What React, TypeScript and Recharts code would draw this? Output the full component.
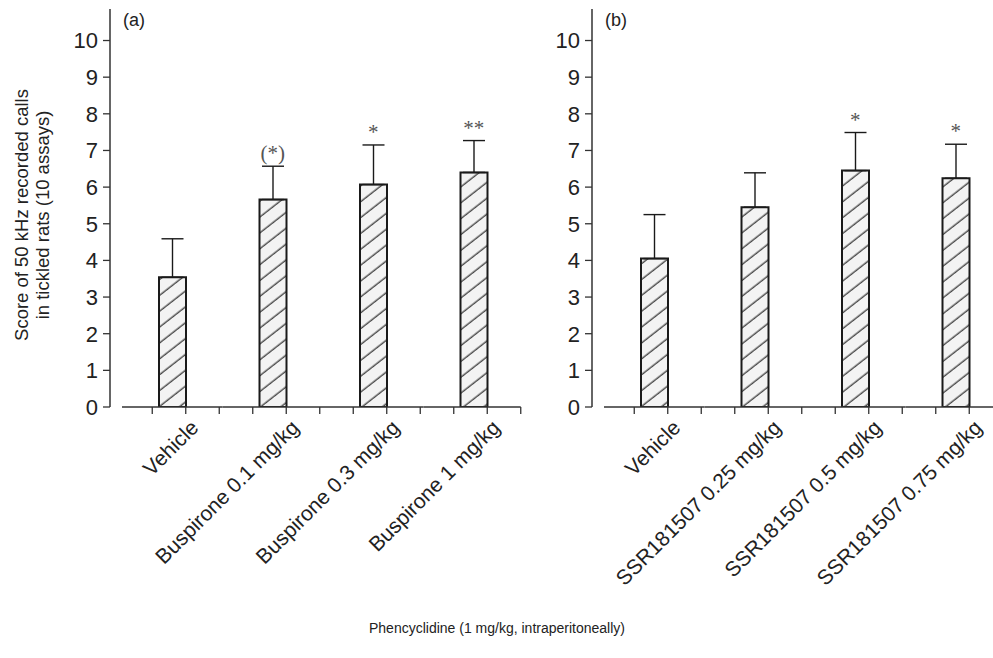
import React from 'react';
import { ComposedChart, Bar, Line, XAxis, YAxis, ErrorBar, LabelList } from 'recharts';

const categoriesA = ['Vehicle', 'Buspirone 0.1 mg/kg', 'Buspirone 0.3 mg/kg', 'Buspirone 1 mg/kg'];
const meansA = [3.54, 5.66, 6.07, 6.4];
const semA = [1.05, 0.91, 1.08, 0.87];
const sigA = ['', '(*)', '*', '**'];

const categoriesB = ['Vehicle', 'SSR181507 0.25 mg/kg', 'SSR181507 0.5 mg/kg', 'SSR181507 0.75 mg/kg'];
const meansB = [4.05, 5.45, 6.45, 6.24];
const semB = [1.2, 0.94, 1.04, 0.93];
const sigB = ['', '', '*', '*'];

const yTicks = [0, 1, 2, 3, 4, 5, 6, 7, 8, 9, 10];

const FONT = '"Liberation Sans", Arial, Helvetica, sans-serif';
const INK = '#222';

// panel geometry (px)
const CW = 540;
const CH = 658;
const MARGIN = { top: 9, right: 16, bottom: 0, left: 50 };
const Y_W = 60;
const X_PAD = 12;
const BAR = 27;
const BAND = (CW - MARGIN.right - (MARGIN.left + Y_W + X_PAD)) / 4;
const STEP = BAND / 3;

const build = (cats: string[], means: number[], sem: number[], sig: string[]) =>
  cats.map((name, i) => ({ name, value: means[i], err: [0, sem[i]], top: means[i] + sem[i], sig: sig[i] }));

const dataA = build(categoriesA, meansA, semA, sigA);
const dataB = build(categoriesB, meansB, semB, sigB);

function BandTick(props: any) {
  const { x, y, payload, index, visibleTicksCount } = props;
  const right = x + BAR / 2;
  const last = index === visibleTicksCount - 1;
  const marks = [right - STEP, right, right + STEP];
  return (
    <g>
      <line x1={x - BAND / 2} x2={last ? right + STEP : x + BAND / 2} y1={y} y2={y} stroke="#333" strokeWidth={1.5} />
      {marks.map((m, i) => (
        <line key={i} x1={m} x2={m} y1={y} y2={y + 7} stroke="#333" strokeWidth={1.3} />
      ))}
      <text
        transform={`translate(${right + 14},${y + 22}) rotate(-45)`}
        textAnchor="end"
        fontFamily={FONT}
        fontSize={21}
        fill={INK}
      >
        {payload.value}
      </text>
    </g>
  );
}

function Panel({ data, hatch }: { data: any[]; hatch: string }) {
  return (
    <ComposedChart width={CW} height={CH} data={data} margin={MARGIN}>
      <XAxis
        dataKey="name"
        type="category"
        height={CH - 407 - MARGIN.bottom}
        padding={{ left: X_PAD, right: 0 }}
        axisLine={false}
        tickLine={false}
        tickSize={0}
        tickMargin={0}
        interval={0}
        tick={(p: any) => <BandTick {...p} />}
      />
      <YAxis
        domain={[0, 10.86]}
        ticks={yTicks}
        interval={0}
        width={Y_W}
        tickSize={7}
        tickMargin={5}
        axisLine={{ stroke: '#333', strokeWidth: 1.5 }}
        tickLine={{ stroke: '#333', strokeWidth: 1.3 }}
        tick={{ fontSize: 22, fill: INK, fontFamily: FONT }}
        allowDataOverflow
      />
      <Bar dataKey="value" barSize={BAR} fill={`url(#${hatch})`} stroke="#1a1a1a" strokeWidth={2} isAnimationActive={false}>
        <ErrorBar dataKey="err" direction="y" width={11} stroke="#1a1a1a" strokeWidth={1.4} />
      </Bar>
      <Line dataKey="top" stroke="none" dot={false} activeDot={false} isAnimationActive={false}>
        <LabelList
          dataKey="sig"
          position="top"
          offset={6}
          style={{ fontFamily: '"Liberation Serif", "Times New Roman", serif', fontSize: 21, fill: '#555' }}
        />
      </Line>
    </ComposedChart>
  );
}

export default function App() {
  return (
    <div style={{ position: 'absolute', left: 0, top: 0, width: 993, height: 658, overflow: 'hidden', background: '#fff' }}>
      <svg width={0} height={0} style={{ position: 'absolute' }}>
        <defs>
          {['hatchA', 'hatchB'].map((id) => (
            <pattern key={id} id={id} patternUnits="userSpaceOnUse" width={12.5} height={12.5} patternTransform="rotate(-38)">
              <rect width={12.5} height={12.5} fill="#f3f3f3" />
              <line x1={0} x2={12.5} y1={6} y2={6} stroke="#3a3a3a" strokeWidth={1.3} />
            </pattern>
          ))}
        </defs>
      </svg>
      <div style={{ position: 'absolute', left: 0, top: 0 }}>
        <Panel data={dataA} hatch="hatchA" />
      </div>
      <div style={{ position: 'absolute', left: 482, top: 0 }}>
        <Panel data={dataB} hatch="hatchB" />
      </div>
      <svg width={993} height={658} style={{ position: 'absolute', left: 0, top: 0, pointerEvents: 'none' }}>
        <g fontFamily={FONT} fill={INK}>
          <text x={123} y={26} fontSize={18}>(a)</text>
          <text x={605} y={26} fontSize={18}>(b)</text>
          <text transform="translate(28,215) rotate(-90)" textAnchor="middle" fontSize={18.5}>Score of 50 kHz recorded calls</text>
          <text transform="translate(49,215) rotate(-90)" textAnchor="middle" fontSize={18.5}>in tickled rats (10 assays)</text>
          <text x={497} y={633} textAnchor="middle" fontSize={14}>Phencyclidine (1 mg/kg, intraperitoneally)</text>
        </g>
      </svg>
    </div>
  );
}
